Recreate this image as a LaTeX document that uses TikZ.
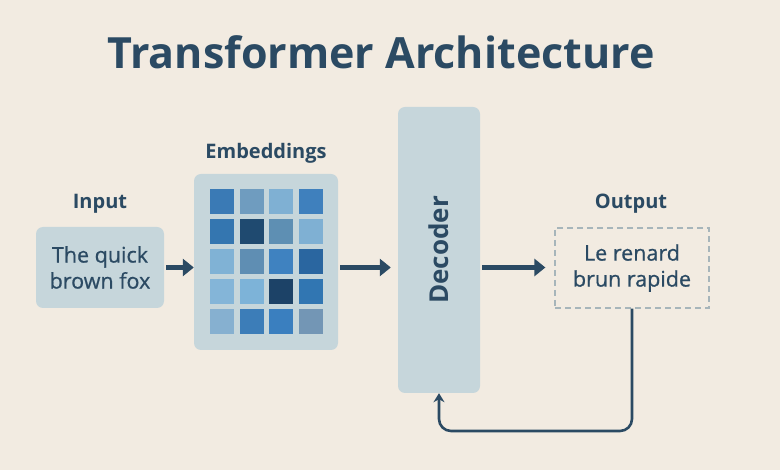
\documentclass[tikz,border=0pt]{standalone}
\usepackage{fontspec}
\setmainfont{Open Sans}
\newfontfamily\medfont{Open Sans}[FakeBold=0.7]
\usetikzlibrary{arrows.meta}

\definecolor{bg}{HTML}{F2EBE1}
\definecolor{ink}{HTML}{2B4A63}
\definecolor{boxfill}{HTML}{C6D6DB}
\definecolor{dashgray}{HTML}{A7B5BA}

\begin{document}
\begin{tikzpicture}[x=1pt, y=-1pt]
    \tikzset{
        panel/.style={fill=boxfill, rounded corners=7pt, inner sep=0pt},
        label/.style={text=ink, font=\fontsize{20}{23}\selectfont\bfseries},
        arr/.style={-{Triangle[length=11pt, width=17pt]}, line width=5pt, draw=ink},
        fb/.style={-{Stealth[length=9pt, width=11pt]}, line width=2.6pt, draw=ink, rounded corners=12pt}
    }
    \fill[bg] (0,0) rectangle (780,470); %% background

    \node[text=ink, font=\fontsize{43}{50}\selectfont\bfseries] (title) at (381,52) {Transformer Architecture};

    % boxes
    \node[panel, minimum width=128pt, minimum height=81pt, text=ink, align=center,
          font=\fontsize{21.5}{26}\medfont] (input) at (100,267.5) {The quick\\brown fox};
    \node[panel, minimum width=144pt, minimum height=176pt] (emb) at (266,262) {};
    \node[panel, minimum width=82pt, minimum height=286pt] (dec) at (439,250) {};
    \node[text=ink, rotate=90, font=\fontsize{26}{30}\selectfont\bfseries] (dectext) at (dec.center) {Decoder};
    \node[draw=dashgray, dash pattern=on 6pt off 4pt, line width=1.2pt, minimum width=154pt, minimum height=80pt,
          text=ink, align=center, font=\fontsize{21.5}{26}\medfont] (out) at (632,268) {Le renard\\brun rapide};

    \node[label] (inlabel) at (100,204) {Input};
    \node[label] (emblabel) at (266,153) {Embeddings};
    \node[label] (outlabel) at (631,204) {Output};

    % embedding grid
    \foreach \row/\colors in {0/{3A7AB5,6F9CBF,7FB0D3,3F80BD},
                              1/{3476B0,1F4A70,5E8FB3,7FB0D3},
                              2/{80B2D5,5F8EB3,3F82C0,2A66A0},
                              3/{84B5D8,7DB3D8,1C4267,3176B2},
                              4/{86B0D0,3C7DB8,3A7FBF,7396B5}} {
        \foreach \c [count=\col from 0] in \colors {
            \definecolor{cell}{HTML}{\c}
            \fill[cell] ({210+29.5*\col},{189+30*\row}) rectangle ++(24,25);
        }
    }

    % connectors
    \draw[arr] (input.east) ++(2,0) -- (emb.west |- input.east);
    \draw[arr] (emb.east |- input.east) ++(2,0) -- ([xshift=-7pt]dec.west |- input.east);
    \draw[arr] (dec.east |- input.east) ++(2,0) -- ([xshift=-9pt]out.west |- input.east);

    \coordinate (back) at (439,431);
    \draw[fb] (out.south) -- (out.south |- back) -| (dec.south);
\end{tikzpicture}
\end{document}
